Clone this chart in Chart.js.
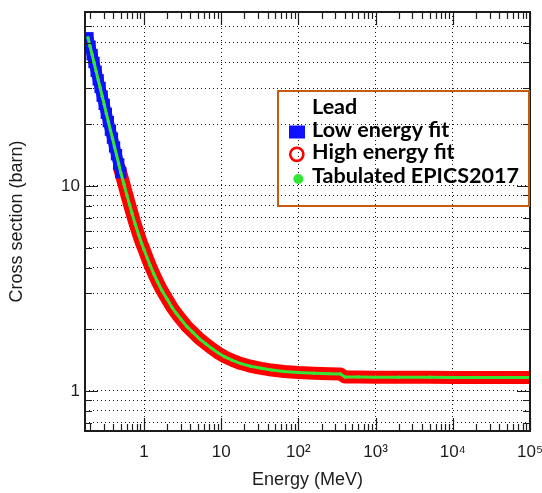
<!DOCTYPE html>
<html>
<head>
<meta charset="utf-8">
<script src="https://cdn.jsdelivr.net/npm/chart.js@4.4.1/dist/chart.umd.min.js"></script>
<style>
html,body{margin:0;padding:0;background:#fff;}
#wrap{width:542px;height:493px;}
</style>
</head>
<body>
<div id="wrap"><canvas id="xsChart" width="542" height="493"></canvas></div>
<script>
'use strict';

// energies in MeV, cross sections in barn
const lowE   = [0.188, 0.2, 0.213, 0.225, 0.24, 0.255, 0.27, 0.287, 0.305, 0.325, 0.345, 0.367, 0.39, 0.415, 0.44, 0.47, 0.5];
const lowXS  = [52.8, 48.0, 43.6, 40.0, 36.2, 32.9, 30.2, 27.4, 25.0, 22.6, 20.6, 18.7, 17.1, 15.5, 14.2, 12.8, 11.6];

const highE  = [0.48, 0.5, 0.55, 0.6, 0.65, 0.7, 0.77, 0.85, 0.93, 1.0, 1.1, 1.2, 1.35, 1.5, 1.7, 2.0, 2.3, 2.6, 3.0, 3.6, 4.3, 5.2, 6.3, 7.6, 9.2, 11, 14, 18, 24, 33, 45, 65, 100, 160, 250, 350, 400, 600, 1000, 2000, 5000, 10000, 20000, 50000, 100000];
const highXS = [12.2, 11.6, 10.2, 9.0, 8.1, 7.35, 6.5, 5.8, 5.25, 4.9, 4.45, 4.1, 3.7, 3.4, 3.1, 2.8, 2.56, 2.4, 2.24, 2.06, 1.93, 1.8, 1.7, 1.61, 1.53, 1.47, 1.41, 1.36, 1.32, 1.29, 1.265, 1.245, 1.23, 1.22, 1.215, 1.21, 1.17, 1.17, 1.168, 1.167, 1.166, 1.165, 1.165, 1.165, 1.165];

const tabE   = [0.188, 0.2, 0.213, 0.225, 0.24, 0.255, 0.27, 0.287, 0.305, 0.325, 0.345, 0.367, 0.39, 0.415, 0.44, 0.47, 0.5, 0.55, 0.6, 0.65, 0.7, 0.77, 0.85, 0.93, 1.0, 1.1, 1.2, 1.35, 1.5, 1.7, 2.0, 2.3, 2.6, 3.0, 3.6, 4.3, 5.2, 6.3, 7.6, 9.2, 11, 14, 18, 24, 33, 45, 65, 100, 160, 250, 350, 400, 600, 1000, 2000, 5000, 10000, 20000, 50000, 100000];
const tabXS  = [52.8, 48.0, 43.6, 40.0, 36.2, 32.9, 30.2, 27.4, 25.0, 22.6, 20.6, 18.7, 17.1, 15.5, 14.2, 12.8, 11.6, 10.2, 9.0, 8.1, 7.35, 6.5, 5.8, 5.25, 4.9, 4.45, 4.1, 3.7, 3.4, 3.1, 2.8, 2.56, 2.4, 2.24, 2.06, 1.93, 1.8, 1.7, 1.61, 1.53, 1.47, 1.41, 1.36, 1.32, 1.29, 1.265, 1.245, 1.23, 1.22, 1.215, 1.21, 1.17, 1.17, 1.168, 1.167, 1.166, 1.165, 1.165, 1.165, 1.165];

const xMin = 0.172, xMax = 100000;
const yMin = 0.638, yMax = 70.5;
const xGrid = [1, 10, 100, 1000, 10000, 100000];
const yGrid = [0.7, 0.8, 0.9, 1, 2, 3, 4, 5, 6, 7, 8, 9, 10, 20, 30, 40, 50, 60];
const yMajor = [1, 10];
const xLabels = { 1:'1', 10:'10', 100:'10\u00B2', 1000:'10\u00B3', 10000:'10\u2074', 100000:'10\u2075' };
const yLabels = { 1:'1', 10:'10' };
const legendTitle = 'Lead';
const legendItems = ['Low energy fit', 'High energy fit', 'Tabulated EPICS2017'];

const BLUE = '#0f0fff', RED = '#ff0000', GREEN = '#33e633', INK = '#1c1c1c';

// minor ticks on x (2..9 of every decade), only drawn as short tick marks
const xMinor = [];
for (let d = 0.1; d < xMax; d *= 10) for (let k = 2; k <= 9; k++) { const v = k * d; if (v > xMin && v < xMax) xMinor.push(v); }

const pts = (xs, ys) => xs.map((x, i) => ({ x, y: ys[i] }));

const frame = {
    id: 'frame',
    afterDatasetsDraw(chart) {
        const { ctx, chartArea: a, scales: { x, y } } = chart;
        ctx.save();
        ctx.strokeStyle = INK;
        ctx.lineWidth = 1.2;
        ctx.beginPath();
        const vt = (v, len) => { const p = Math.round(x.getPixelForValue(v)) + 0.5; ctx.moveTo(p, a.bottom); ctx.lineTo(p, a.bottom - len); ctx.moveTo(p, a.top); ctx.lineTo(p, a.top + len); };
        const ht = (v, len) => { const p = Math.round(y.getPixelForValue(v)) + 0.5; ctx.moveTo(a.left, p); ctx.lineTo(a.left + len, p); ctx.moveTo(a.right, p); ctx.lineTo(a.right - len, p); };
        xMinor.forEach(v => vt(v, 7));
        xGrid.forEach(v => vt(v, 13));
        yGrid.forEach(v => ht(v, yMajor.includes(v) ? 13 : 7));
        ctx.stroke();
        ctx.lineWidth = 2;
        ctx.strokeRect(a.left, a.top, a.right - a.left, a.bottom - a.top);
        ctx.restore();
    }
};

const legendBox = {
    id: 'legendBox',
    afterDraw(chart) {
        const ctx = chart.ctx;
        ctx.save();
        ctx.strokeStyle = '#c55a11';
        ctx.lineWidth = 2;
        ctx.strokeRect(278, 91, 251, 115);
        // fit the bold font so the longest entry spans the same width as in the picture
        let size = 20;
        ctx.font = 'bold ' + size + 'px Lato, "Liberation Sans", sans-serif';
        size = size * 207 / ctx.measureText(legendItems[2]).width;
        ctx.font = 'bold ' + size.toFixed(2) + 'px Lato, "Liberation Sans", sans-serif';
        ctx.fillStyle = '#000';
        ctx.textBaseline = 'alphabetic';
        ctx.textAlign = 'left';
        const tx = 312, base = [113.5, 137.3, 159.2, 182.7];
        ctx.fillText(legendTitle, tx, base[0]);
        legendItems.forEach((t, i) => ctx.fillText(t, tx, base[i + 1]));
        ctx.fillStyle = BLUE;
        ctx.fillRect(289, 125.5, 16, 13);
        ctx.strokeStyle = RED;
        ctx.lineWidth = 2.6;
        ctx.beginPath(); ctx.arc(296.8, 154.3, 6.6, 0, Math.PI * 2); ctx.stroke();
        ctx.fillStyle = GREEN;
        ctx.beginPath(); ctx.arc(298.3, 179, 5, 0, Math.PI * 2); ctx.fill();
        ctx.restore();
    }
};

const tickFont = { family: '"Liberation Sans", Arial, sans-serif', size: 17 };
const titleFont = { family: '"Liberation Sans", Arial, sans-serif', size: 18 };
const gridOpts = { color: 'rgba(0,0,0,0.9)', lineWidth: 1, drawTicks: false };

new Chart(document.getElementById('xsChart').getContext('2d'), {
    type: 'line',
    data: {
        datasets: [
            { label: 'Tabulated EPICS2017', data: pts(tabE, tabXS), borderColor: GREEN, backgroundColor: GREEN, borderWidth: 3,
              pointRadius: 1.7, pointBorderWidth: 0, pointBackgroundColor: GREEN, tension: 0 },
            { label: 'Low energy fit', data: pts(lowE, lowXS), borderColor: BLUE, backgroundColor: BLUE, borderWidth: 11,
              pointStyle: 'rect', pointRadius: 8, pointBorderWidth: 0, pointBackgroundColor: BLUE, tension: 0 },
            { label: 'High energy fit', data: pts(highE, highXS), borderColor: RED, borderWidth: 13, borderCapStyle: 'round',
              borderJoinStyle: 'round', pointRadius: 0, tension: 0 }
        ]
    },
    options: {
        responsive: false, animation: false, events: [],
        layout: { padding: { top: 12, right: 12, left: 0, bottom: 0 } },
        plugins: { legend: { display: false }, tooltip: { enabled: false } },
        scales: {
            x: {
                type: 'logarithmic', min: xMin, max: xMax, bounds: 'data',
                afterBuildTicks: s => { s.ticks = xGrid.map(v => ({ value: v })); s.min = xMin; s.max = xMax; },
                afterFit: s => { s.height = 62; s.paddingLeft = 0; s.paddingRight = 0; },
                grid: gridOpts, border: { display: false, dash: [1, 3] },
                ticks: { autoSkip: false, maxRotation: 0, padding: 11, color: INK, font: tickFont, callback: v => xLabels[v] || '' },
                title: { display: true, text: 'Energy (MeV)', color: INK, font: titleFont, padding: { top: 0, bottom: 2 } }
            },
            y: {
                type: 'logarithmic', min: yMin, max: yMax, bounds: 'data',
                afterBuildTicks: s => { s.ticks = yGrid.map(v => ({ value: v })); s.min = yMin; s.max = yMax; },
                afterFit: s => { s.width = 85; s.paddingTop = 0; s.paddingBottom = 0; },
                grid: gridOpts, border: { display: false, dash: [1, 3] },
                ticks: { autoSkip: false, padding: 5, color: INK, font: tickFont, callback: v => yLabels[v] || '' },
                title: { display: true, text: 'Cross section (barn)', color: INK, font: titleFont, padding: { top: 6, bottom: 0 } }
            }
        }
    },
    plugins: [frame, legendBox]
});
</script>
</body>
</html>
